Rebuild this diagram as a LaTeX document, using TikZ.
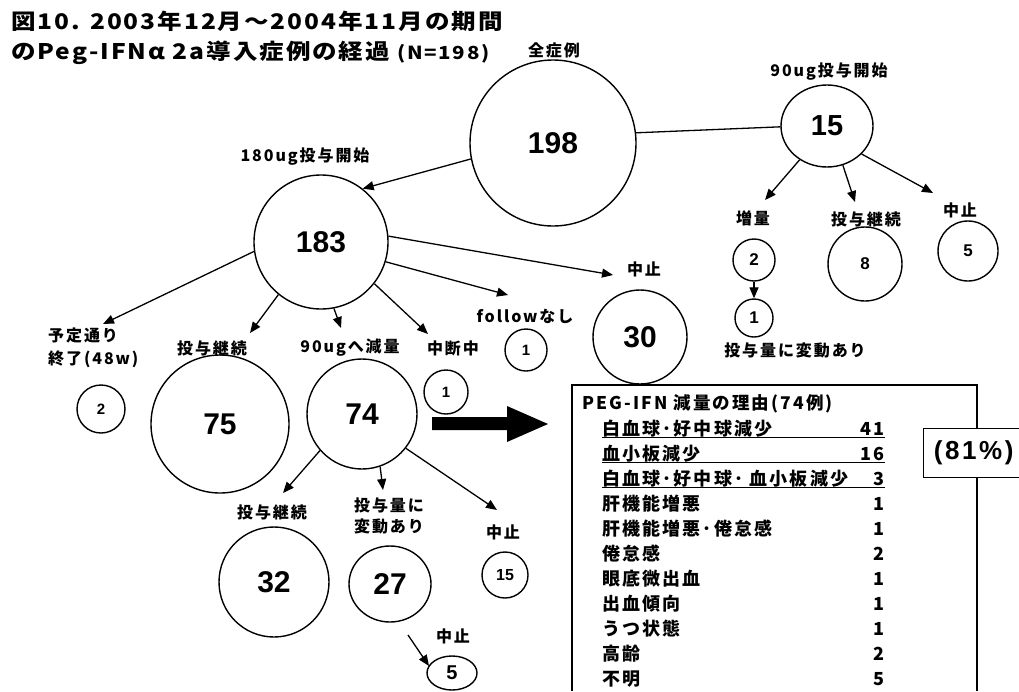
\documentclass[tikz,border=0pt]{standalone}
\usepackage{fontspec}
\usetikzlibrary{arrows.meta,shapes.geometric}
\newfontfamily\jpf{Noto Sans CJK JP}[LetterSpace=12]
\newfontfamily\jpt{Noto Sans CJK JP}[LetterSpace=8]
\newfontfamily\numf{Liberation Sans}
\newfontfamily\pctf{Liberation Sans}[LetterSpace=10]
\tikzset{
  circ/.style 2 args={circle, draw, line width=1.4pt, inner sep=0pt, minimum size=#1pt, font=\numf\bfseries\fontsize{#2}{#2}\selectfont},
  ell/.style n args={3}{ellipse, draw, line width=1.4pt, inner sep=0pt, minimum width=#1pt, minimum height=#2pt, font=\numf\bfseries\fontsize{#3}{#3}\selectfont},
  lab/.style={inner sep=0pt, font=\jpf\bfseries\fontsize{#1}{#1}\selectfont},
  lab/.default=16,
  ttl/.style={inner sep=0pt, anchor=west, font=\jpt\bfseries\fontsize{21.5}{21.5}\selectfont},
  twoline/.style={inner sep=0pt, font=\jpf\bfseries\fontsize{16}{#1}\selectfont},
  arr/.style={line width=1.3pt, -{Triangle[length=11pt,width=9pt]}},
  conn/.style={line width=1.3pt},
  rowt/.style={inner sep=0pt, anchor=base west, font=\jpf\bfseries\fontsize{18}{18}\selectfont},
  rown/.style={inner sep=0pt, anchor=base east, font=\jpf\bfseries\fontsize{18}{18}\selectfont},
  uline/.style={line width=1.2pt},
}
\begin{document}
\begin{tikzpicture}[x=1pt,y=-1pt]
\useasboundingbox[fill=white] (0,0) rectangle (1019,691);
% title
\node[ttl] (title1) at (11,21) {\scalebox{1.14}[1]{図10. 2003年12月～2004年11月の期間}};
\node[ttl] (title2) at (11,53) {\scalebox{1.14}[1]{のPeg-IFNα 2a導入症例の経過 {\fontsize{18}{18}\selectfont(N=198)}}};
% circles
\node[circ={166}{30}] (c198) at (553,143) {198};
\node[ell={92}{82}{29}] (c15) at (827,126) {15};
\node[circ={134}{30}] (c183) at (321,242) {183};
\node[circ={48}{15}] (c2a) at (101,409) {2};
\node[circ={138}{30}] (c75) at (220,424) {75};
\node[circ={110}{30}] (c74) at (362,414) {74};
\node[circ={44}{15}] (c1a) at (446,392) {1};
\node[circ={42}{15}] (c1b) at (526,350) {1};
\node[circ={94}{30}] (c30) at (640,337) {30};
\node[circ={42}{17}] (c2b) at (754,260) {2};
\node[circ={38}{17}] (c1c) at (754,318) {1};
\node[circ={74}{17}] (c8) at (865,264) {8};
\node[circ={60}{17}] (c5a) at (968,251) {5};
\node[circ={110}{30}] (c32) at (274,582) {32};
\node[ell={82}{76}{30}] (c27) at (390,584) {27};
\node[circ={46}{16}] (c15b) at (505,575) {15};
\node[ell={50}{34}{20}] (c5b) at (452,673) {5};
% labels
\node[lab] (l198) at (554,50) {全症例};
\node[lab] (l15) at (829,72) {90ug投与開始};
\node[lab] (l183) at (305,157) {180ug投与開始};
\node[lab] (lzo) at (753,218) {増量};
\node[lab] (lkt1) at (866,219) {投与継続};
\node[lab] (lch1) at (960,210) {中止};
\node[lab] (lhd1) at (795,350) {投与量に変動あり};
\node[twoline=23, align=left, anchor=west] (lyt) at (48,348) {予定通り\\終了(48w)};
\node[lab] (lkt2) at (212,348) {投与継続};
\node[lab] (lgen) at (350,348) {90ugへ減量};
\node[lab] (lcd) at (453,348) {中断中};
\node[lab] (lfol) at (525,316) {followなし};
\node[lab] (lch2) at (644,269) {中止};
\node[lab] (lkt3) at (272,512) {投与継続};
\node[twoline=21, align=center] (lhd2) at (389,515.5) {投与量に\\変動あり};
\node[lab] (lch3) at (503,532) {中止};
\node[lab] (lch4) at (453,636) {中止};
% arrow tips
\coordinate (tyt) at (103,324);
\coordinate (tkt2) at (250,333);
\coordinate (tgen) at (341,328);
\coordinate (tcd) at (428,334);
\coordinate (tfol) at (508,295);
\coordinate (tch2) at (613,275);
\coordinate (tkt3) at (283,493);
\coordinate (thd2) at (383,490);
\coordinate (tch3) at (497,510);
\coordinate (tzo) at (765,200);
\coordinate (tkt1) at (855,202);
\coordinate (tch1) at (933,193);
\coordinate (s5) at (408,635);
\coordinate (t5) at (429,666);
% connectors
\draw[arr] (c198.191) -- (c183.52);
\draw[conn] (c198.7) -- (c15.181);
\draw[arr] (c183.188) -- (tyt);
\draw[arr] (c183.231) -- (tkt2);
\draw[arr] (c183.281) -- (tgen);
\draw[arr] (c183.322) -- (tcd);
\draw[arr] (c183.343) -- (tfol);
\draw[arr] (c183.5) -- (tch2);
\draw[arr] (c74.221) -- (tkt3);
\draw[arr] (c74.289) -- (thd2);
\draw[arr] (c74.322) -- (tch3);
\draw[arr] (c15.231) -- (tzo);
\draw[arr] (c15.292) -- (tkt1);
\draw[arr] (c15.321) -- (tch1);
\draw[arr] (c2b) -- (c1c);
\draw[arr] (s5) -- (t5);
% big arrow
\fill (432,417) -- (507,417) -- (507,406) -- (548,424) -- (507,442) -- (507,430) -- (432,430) -- cycle;
% reason box
\draw[line width=1.4pt] (572,691) -- (572,385) -- (977,385) -- (977,691);
\node[inner sep=0pt, anchor=base west, font=\jpf\bfseries\fontsize{17.5}{17.5}\selectfont] (bhead) at (582,409) {PEG-IFN 減量の理由(74例)};
\foreach \t/\n [count=\i] in {白血球･好中球減少/41, 血小板減少/16, 白血球･好中球･ 血小板減少/3, 肝機能増悪/1, 肝機能増悪･倦怠感/1, 倦怠感/2, 眼底微出血/1, 出血傾向/1, うつ状態/1, 高齢/2, 不明/5}{
  \node[rowt] (rt\i) at (602,{410+25*\i}) {\t};
  \node[rown] (rn\i) at (885,{410+25*\i}) {\n};
}
\foreach \i in {1,2,3}{
  \draw[uline] ([yshift=-2.5pt]rt\i.base west) -- ([yshift=-2.5pt]rn\i.base east);
}
\node[draw, line width=1.4pt, fill=white, minimum width=100pt, minimum height=49pt, anchor=north west, inner sep=0pt, font=\pctf\bfseries\fontsize{26}{26}\selectfont] (pct) at (923,428) {(81\%)};
\end{tikzpicture}
\end{document}
